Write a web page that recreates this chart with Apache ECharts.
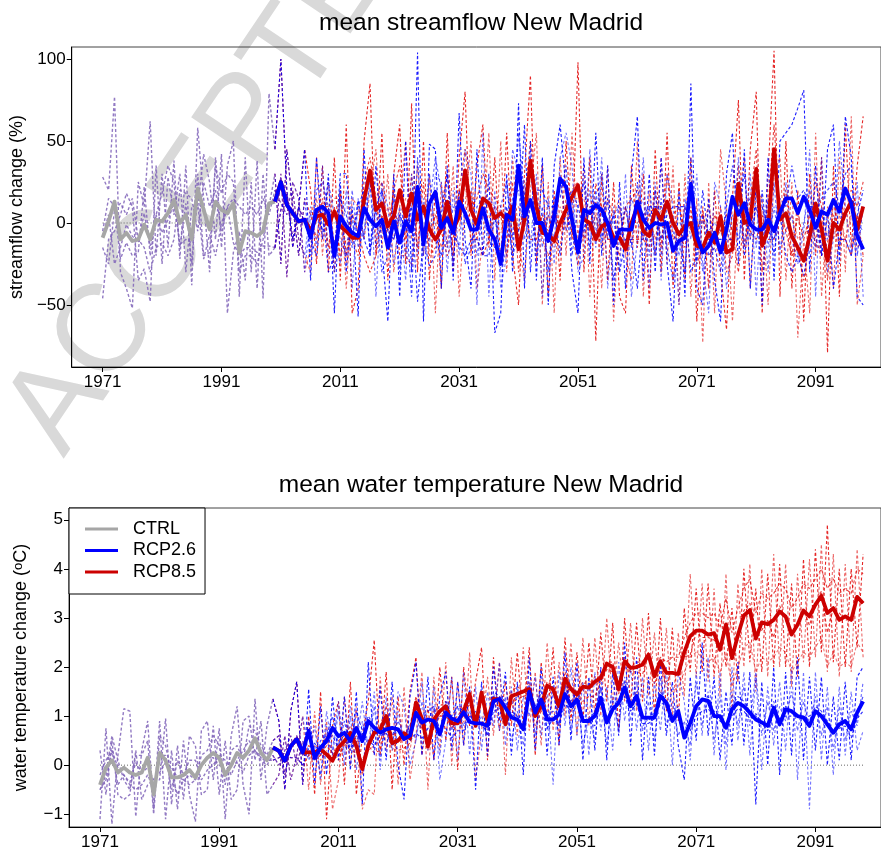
<!DOCTYPE html>
<html>
<head>
<meta charset="utf-8">
<script src="https://cdn.jsdelivr.net/npm/echarts@6/dist/echarts.min.js"></script>
<style>
html, body { margin: 0; padding: 0; background: #fff; }
#chart { width: 881px; height: 851px; }
</style>
</head>
<body>
<div id="chart"></div>
<script>
// ---------- axis ticks ----------
const yearTicks = [1971, 1991, 2011, 2031, 2051, 2071, 2091];
const flowTicks = [-50, 0, 50, 100];
const tempTicks = [-1, 0, 1, 2, 3, 4, 5];

const CTRL_START = 1971;   // control run 1971-2000
const HIST_START = 2000;   // shared historical years 2000-2005
const RCP_START = 2006;    // scenarios 2006-2099

// ---------- streamflow change (%) ----------
const flowCtrlMean = [-9, 1, 13, -10, -6, -11, -10, -1, -10, 2, 1, 6, 14, 0, 5, -10, 21, 8, -4, 13, 8, 6, 12, -18, -5, -6, -8, -5, 12, 13];
const flowCtrlMembers = [
  [28,20,77,-30,-40,-52,25,10,62,-20,30,-15,38,-22,35,-38,58,15,-30,40,-15,35,50,-45,40,-30,38,-46,79,45],
  [-46,-10,-5,5,18,10,-35,-28,-48,35,-25,28,5,30,-30,10,10,42,25,-10,42,-55,-18,-5,-35,25,-40,30,-20,-15],
  [-5,15,10,-22,-12,-20,-18,22,-20,5,18,35,25,-15,12,-25,30,-20,-18,35,18,30,25,-30,-20,-20,-25,-10,10,30],
  [-15,-25,8,12,5,15,-10,-15,-30,-15,-12,-20,-10,20,18,15,-5,25,10,20,-5,10,15,10,5,10,5,15,5,20],
  [-8,5,-25,-15,-1,-8,-12,6,-14,5,-6,2,12,-13,-10,-12,12,-22,-7,-20,0,10,-12,-20,-15,-15,-18,-14,-14,-15]
];
const flowHistMean = [13, 25, 11, 6, 1, 2];
const flowHistMembers = [
  [45,100,20,-15,10,45],
  [-15,30,-33,20,-10,-20],
  [30,-25,45,10,-20,15],
  [20,12,5,25,15,-30],
  [-15,8,18,-10,10,0]
];
const flowRcp26Mean = [
  -9,8,10,6,-20,4,-2,-6,-8,9,
  2,-2,2,-15,1,-12,1,-5,22,-13,
  12,19,-3,3,-6,13,6,-4,-4,9,
  -4,-10,-25,5,2,35,4,14,0,0,
  -11,4,27,22,2,-18,8,6,11,8,
  0,-14,-4,-4,-4,13,2,-3,0,-1,
  0,-17,-11,-9,24,-8,-18,-14,-6,-18,
  -4,16,5,12,-1,-4,-4,2,-5,6,
  15,15,6,16,8,-3,7,5,14,7,
  21,12,-8,-16
];
const flowRcp85Mean = [
  -5,4,5,-1,7,-2,-5,-9,-9,14,
  32,8,12,-2,4,20,4,18,2,10,
  -4,-10,-4,13,-4,4,32,8,-1,15,
  12,3,6,2,10,-16,2,38,10,-6,
  -7,-11,0,8,16,23,2,0,-10,-2,
  0,-9,-9,-16,0,10,-5,-8,8,2,
  13,0,-7,-2,0,-14,-15,-6,-12,4,
  -18,-16,24,0,2,33,-14,-4,45,2,
  6,-8,-15,-23,-8,12,-4,-23,0,-4,
  6,13,-4,10
];
const flowRcp26Members = [
  [-35,40,-10,30,-55,25,-30,10,-57,45,
   -20,35,-15,-60,30,-45,50,-30,104,-60,
   48,45,-40,35,-35,67,-10,-40,45,-20,
   30,-67,-55,30,-30,73,-40,50,-35,40,
   -50,35,60,20,-30,-55,40,-25,55,-20,
   35,-50,25,-40,30,65,-35,30,-30,40,
   -25,-60,20,-45,85,-40,-50,15,-35,-60,
   30,55,-25,45,-40,25,-50,40,-35,50,
   55,60,70,81,-30,35,-20,45,60,-25,
   65,40,-45,-50],
  [10,-15,35,-20,-10,-25,20,-40,15,-10,
   30,-45,25,10,-25,5,-35,30,-20,15,
   -15,30,25,-30,20,-20,45,30,-50,55,
   -45,20,-40,-20,45,30,25,-15,30,-45,
   15,-25,40,55,35,-30,-20,45,-10,40,
   -40,10,-30,30,-45,-10,40,-40,25,-35,
   30,10,-50,15,-10,30,-25,-55,25,10,
   -40,-10,40,-15,30,-45,20,-30,25,-20,
   25,-10,-25,-5,45,-45,40,-30,-10,50,
   10,-20,25,-45],
  [-20,20,25,10,-30,15,5,-15,10,20,
   -15,10,-30,-20,15,-30,10,-45,40,-20,
   30,-10,-20,10,-25,20,-25,-15,10,15,
   -10,-15,10,25,-10,55,15,40,-20,10,
   -30,15,15,35,-20,10,25,-15,20,-10,
   15,-35,-10,10,-15,25,-10,10,-20,15,
   -15,-35,-10,-30,40,-25,5,-20,-15,-30,
   10,35,10,30,-10,10,-15,15,-20,15,
   10,35,15,20,10,10,15,20,25,10,
   30,35,-20,10],
  [5,5,-5,25,5,-10,-20,20,-15,-5,
   25,-15,20,-5,-10,10,-20,15,10,5,
   10,40,20,-15,10,5,30,10,-20,5,
   15,10,-30,-15,15,20,-10,10,15,-15,
   5,-10,30,-5,15,-20,-5,20,-15,30,
   -10,5,10,-15,15,5,15,-20,20,-20,
   10,-5,-20,10,20,5,-30,-5,0,-5,
   -15,5,-10,10,15,-15,20,-15,10,-15,
   -5,5,-20,0,20,-15,10,-10,15,5,
   5,15,0,-5],
  [-10,-20,10,-30,-20,30,30,-10,14,-10,
   -20,10,20,-5,-10,5,-5,10,-48,-10,
   -26,-20,5,30,-5,-14,-20,-10,-10,-20,
   -20,4,-20,10,-20,-6,60,-30,20,20,
   10,10,-20,10,20,10,-5,10,10,5,
   -5,5,-30,-10,-10,-40,5,10,10,-10,
   5,10,10,10,-30,-20,20,-10,-10,-10,
   -10,-10,20,-20,5,10,10,-5,-10,5,
   -20,-30,-20,-32,-10,5,-20,5,-40,-10,
   -10,-20,5,20]
];
const flowRcp85Members = [
  [20,-25,35,-30,40,-35,60,-55,-40,50,
   85,-20,55,-35,30,60,-25,73,-30,50,
   -35,20,-40,55,-30,40,80,-20,35,60,
   -15,40,-25,55,-20,-50,30,90,-25,35,
   -45,20,-35,50,-10,98,-30,40,-72,30,
   -35,25,-45,-55,35,-15,30,-50,45,-30,
   55,-40,25,-35,40,-60,10,-40,20,-30,
   -65,15,75,-35,45,80,-55,30,105,-45,
   50,-40,20,-60,30,-20,40,-79,35,-45,
   60,-15,35,65],
  [-30,40,-20,25,-15,20,-40,15,10,-10,
   20,45,-15,30,-30,10,50,-10,35,-20,
   30,-55,25,-15,35,-45,10,50,-40,-10,
   55,-35,50,-30,40,-10,-35,20,55,-50,
   25,-55,40,-20,55,-10,35,-45,15,-40,
   35,-60,10,-20,-35,50,-45,20,-20,40,
   -25,35,-50,30,-45,15,-73,25,-55,45,
   10,-60,10,40,-40,20,15,-50,30,40,
   -35,25,-70,-10,-55,55,-45,10,-40,40,
   -30,65,-50,-20],
  [5,-10,15,-15,10,-20,-10,-10,-20,25,
   40,15,25,-15,20,35,-10,30,-15,25,
   -20,-15,10,30,-20,20,45,10,15,30,
   20,15,10,-10,25,-30,15,50,15,-10,
   -20,-10,-15,15,20,25,-10,10,-10,10,
   -10,-10,-20,10,15,20,-10,-15,20,-15,
   30,-10,-5,-15,10,-25,-15,-20,-15,10,
   -30,-20,35,-15,15,45,-30,10,60,5,
   20,-20,-15,-35,-10,25,10,-35,15,-15,
   15,20,10,25],
  [-15,15,-10,10,15,15,-25,5,5,15,
   30,10,-5,10,-10,5,15,10,20,-5,
   10,0,-15,5,0,-5,25,-10,-10,5,
   5,-10,-5,5,5,10,-5,35,10,-5,
   5,-15,10,-5,15,15,15,-5,5,-15,
   15,5,15,-20,-10,0,5,5,-10,10,
   10,15,-10,10,-5,0,0,10,-10,-5,
   -5,-15,15,10,-10,25,0,-5,35,10,
   -5,5,-10,-5,-5,5,-15,-5,-10,5,
   -10,5,-15,-10],
  [-10,5,10,10,-30,20,-20,5,-5,-20,
   -30,-20,5,-5,20,-20,-20,-26,5,-5,
   -10,5,-5,-20,-10,20,5,20,-10,-20,
   -10,10,5,-20,5,-5,10,-10,-10,5,
   -5,10,-5,5,-5,-26,5,-5,24,10,
   -10,-10,-10,10,-10,-10,-10,5,10,10,
   -10,5,10,-5,5,-5,6,-10,5,-5,
   5,-5,-30,5,-5,-10,5,-10,-10,5,
   -5,-20,5,-10,5,-10,-20,-12,5,-10,
   -10,-20,5,-20]
];

// ---------- water temperature change (degC) ----------
const tempCtrlMean = [-0.4,-0.05,0.1,-0.15,-0.05,-0.15,-0.2,-0.15,0.15,-0.6,0.25,0.1,-0.25,-0.25,-0.2,-0.1,-0.25,0.0,0.15,0.25,0.15,-0.2,0.0,0.25,0.15,0.3,0.55,0.25,0.1,0.35];
const tempCtrlMembers = [
  [-1.1,0.75,-1.2,0.2,1.15,1.1,-1.05,0.3,0.9,-0.9,0.9,-1.1,0.3,-0.9,0.5,-0.6,-1.15,0.7,0.9,-0.3,0.75,-1.1,0.6,1.2,-0.4,-1.0,1.35,-0.3,0.8,1.35],
  [0.3,-0.6,0.5,-0.6,-0.7,-0.6,0.3,-0.7,-0.4,-0.3,-0.3,0.95,-0.8,0.4,-0.7,0.6,0.4,-0.6,-0.5,0.8,-0.6,0.5,-0.7,-0.5,0.9,1.0,0.1,0.9,-0.6,-0.4],
  [-0.5,-0.2,0.6,0.1,-0.3,-0.5,0.2,0.2,0.5,-1.0,0.6,0.4,-0.2,-0.6,-0.3,-0.4,-0.3,0.2,0.3,0.6,0.4,-0.4,0.3,0.4,0.1,0.8,0.7,0.4,0.2,0.5],
  [-0.2,0.1,0.3,-0.4,-0.2,-0.4,-0.5,-0.4,-0.2,-0.5,0.2,0.2,-0.5,0.1,-0.2,0.1,0.1,-0.3,-0.1,0.0,0.2,0.1,-0.2,0.1,0.3,0.5,0.3,0.1,0.0,0.2],
  [-0.5,-0.3,0.3,-0.05,-0.2,-0.35,0.05,-0.15,-0.05,-0.3,-0.15,0.05,-0.05,-0.25,-0.3,-0.2,-0.3,0.0,0.15,0.15,0.0,-0.1,0.0,0.05,-0.15,0.2,0.3,0.15,0.1,0.1]
];
const tempHistMean = [0.36, 0.29, 0.09, 0.39, 0.53, 0.26];
const tempHistMembers = [
  [1.35,0.9,-0.5,1.1,1.7,-0.4],
  [-0.4,-0.2,0.6,-0.3,0.2,1.0],
  [0.5,0.6,-0.2,0.4,0.6,0.2],
  [0.2,0.0,0.3,0.6,0.0,0.5],
  [0.1,0.15,0.25,0.15,0.15,0.0]
];
const tempRcp26Mean = [
  0.70,0.15,0.36,0.49,0.76,0.59,0.66,0.49,0.76,0.49,
  0.90,0.76,0.66,0.73,0.76,0.73,0.53,0.60,1.07,0.87,
  0.93,0.90,0.63,1.07,0.95,0.90,1.08,0.88,0.85,0.85,
  0.80,1.30,1.35,1.17,0.97,0.93,0.73,1.50,1.07,1.34,
  0.93,0.93,1.03,1.45,1.20,1.34,0.90,0.90,1.00,1.37,
  0.87,1.14,1.27,1.58,1.20,1.41,0.97,0.97,0.97,1.41,
  1.27,0.90,1.10,0.56,0.86,1.20,1.34,1.31,1.00,1.00,
  0.76,1.14,1.27,1.20,1.07,0.93,0.87,0.80,1.17,0.83,
  1.14,1.10,1.00,0.97,0.80,1.10,1.00,0.83,0.66,0.83,
  0.90,0.73,1.07,1.30
];
const tempRcp85Mean = [
  0.26,0.26,0.32,0.22,0.09,0.36,0.49,0.66,0.39,-0.08,
  0.40,0.66,0.72,1.00,0.45,0.50,0.65,0.55,1.28,0.95,
  0.38,0.93,1.10,1.20,0.85,0.85,1.10,1.45,0.80,1.48,
  0.90,1.35,1.34,0.83,1.41,1.45,1.50,1.55,1.00,1.20,
  1.62,1.55,1.20,1.76,1.55,1.44,1.60,1.58,1.70,1.78,
  2.07,2.00,1.55,2.12,1.98,2.00,2.05,2.25,1.81,2.12,
  1.88,1.88,1.86,2.30,2.63,2.74,2.74,2.66,2.69,2.35,
  2.87,2.18,2.65,3.05,3.16,2.58,2.91,2.87,2.96,3.13,
  3.03,2.66,2.86,3.15,3.03,3.27,3.45,3.10,3.20,2.96,
  3.03,2.96,3.43,3.30
];
const tempRcp26Members = [
  [1.55,-0.4,1.2,-0.2,1.4,0.1,1.4,-0.1,1.5,-0.8,
   2.1,0.2,1.6,0.1,1.7,0.0,-0.7,1.4,2.1,0.2,
   1.8,0.1,1.4,1.9,0.3,1.7,0.4,1.6,-0.5,1.7,
   0.2,2.0,0.9,1.9,0.2,1.7,-0.2,2.2,0.3,2.0,
   0.2,1.8,0.4,2.3,0.5,2.1,0.1,1.8,0.3,2.0,
   0.1,1.9,0.6,2.5,0.4,2.2,0.1,1.8,0.2,2.1,
   0.6,1.7,0.4,-0.3,1.8,0.5,2.5,0.6,1.8,0.1,
   1.5,0.4,2.1,0.4,1.9,-0.8,1.7,0.0,2.0,-0.2,
   1.9,0.2,2.2,0.1,1.8,0.3,1.8,0.0,1.4,0.1,
   1.7,0.1,1.8,2.0],
  [0.2,0.8,-0.3,1.1,0.3,1.3,0.2,1.2,0.4,1.3,
   0.3,1.5,-0.1,1.4,0.3,1.5,1.2,0.0,0.5,1.7,
   0.3,1.6,-0.3,0.5,1.8,0.1,1.9,0.2,1.6,0.3,
   1.5,0.8,2.1,0.4,1.6,0.3,1.4,1.0,1.8,0.6,
   1.6,-0.4,1.9,0.8,2.0,0.6,1.7,0.2,1.9,0.7,
   1.6,0.3,2.1,0.9,2.0,0.7,1.8,0.3,1.7,0.7,
   2.0,0.0,1.9,1.3,0.1,1.9,0.6,2.2,0.2,1.9,
   -0.1,2.0,0.5,1.9,0.2,1.8,-0.1,1.6,0.4,1.7,
   0.3,2.0,-0.3,1.9,-0.9,1.9,0.1,1.6,-0.2,1.6,
   0.2,1.5,0.3,0.7],
  [0.9,0.1,0.5,0.6,1.0,0.4,0.9,0.3,1.1,0.7,
   1.0,0.8,0.7,0.9,0.6,0.9,0.6,0.8,1.3,0.9,
   1.1,1.2,0.7,1.3,1.0,1.2,1.1,0.9,1.1,0.8,
   0.7,1.5,1.4,1.3,1.1,1.0,0.8,1.6,1.2,1.5,
   1.0,1.1,0.8,1.6,1.3,1.5,1.0,0.9,1.1,1.6,
   0.9,1.3,1.3,1.7,1.2,1.5,1.0,0.9,1.1,1.5,
   1.3,1.0,1.2,0.6,0.9,1.2,1.3,1.4,1.1,1.0,
   0.8,1.2,1.4,1.3,1.1,1.0,0.9,0.8,1.3,0.9,
   1.2,1.1,1.0,1.0,0.9,1.2,1.1,0.9,0.7,0.9,
   0.9,0.8,1.1,1.4],
  [0.1,0.4,-0.2,0.8,0.2,1.1,0.0,1.0,-0.1,0.9,
   0.3,1.2,0.1,1.0,0.4,1.1,0.5,0.8,0.5,1.3,
   0.4,1.2,0.2,1.3,0.7,1.2,0.8,1.1,0.8,1.0,
   0.6,1.5,0.7,1.4,0.5,1.1,0.4,1.7,0.6,1.6,
   0.7,1.5,0.8,1.7,0.7,1.5,0.4,1.0,0.5,1.6,
   0.4,1.4,0.7,1.8,0.9,1.7,0.7,1.3,0.5,1.8,
   0.8,1.3,0.6,0.9,0.4,1.7,0.8,1.5,0.5,1.4,
   0.4,1.5,0.8,1.6,0.8,1.9,0.6,1.3,0.7,1.2,
   0.9,1.5,0.7,1.3,0.8,1.4,0.6,1.2,0.3,1.2,
   0.5,1.1,0.8,1.7],
  [0.35,0.45,0.2,0.55,0.6,0.35,0.5,0.35,0.5,0.65,
   0.5,0.4,0.6,0.65,0.4,0.55,0.65,0.5,0.65,0.55,
   0.75,0.8,0.75,0.75,0.55,0.7,0.7,1.0,0.85,0.85,
   0.6,1.1,1.15,1.25,1.05,0.95,0.75,1.4,1.05,1.3,
   0.75,0.95,0.85,1.25,1.1,1.3,0.9,0.9,0.8,1.35,
   0.95,1.2,1.25,1.4,1.1,1.25,0.85,0.85,0.95,1.25,
   1.25,0.9,1.0,0.7,0.7,1.0,1.1,1.15,1.0,0.9,
   0.8,1.0,1.15,1.1,0.95,1.05,0.85,0.7,1.05,0.95,
   1.0,1.0,1.0,0.95,1.0,1.1,1.0,0.85,0.7,0.75,
   0.8,0.55,0.95,1.1]
];
const tempRcp85Members = [
  [1.0,-0.6,1.5,-1.1,0.8,1.3,-0.4,1.7,-0.6,0.6,
   1.3,2.55,0.2,1.9,-0.5,1.4,0.0,1.5,2.2,0.2,
   1.2,0.1,2.0,0.5,1.8,-0.1,2.0,0.8,1.7,2.4,
   0.1,2.2,0.7,1.7,0.8,2.3,0.8,2.4,0.2,2.1,
   0.9,2.4,0.4,2.6,0.9,2.3,0.9,2.5,1.0,2.7,
   1.3,2.9,0.7,3.0,1.2,2.9,1.3,3.1,1.0,3.0,
   1.1,2.8,0.9,3.2,1.9,3.6,1.9,3.7,1.8,3.3,
   2.0,3.2,1.7,4.0,2.1,3.6,1.9,3.9,2.0,4.1,
   2.0,3.7,1.8,4.2,2.0,4.4,2.3,4.9,2.1,4.0,
   2.0,4.0,2.4,4.3],
  [-0.5,1.1,-0.4,0.9,-0.9,-0.3,1.4,0.0,1.2,-0.9,
   -0.5,-0.6,1.8,0.3,1.4,-0.4,1.6,-0.3,0.6,1.9,
   -0.5,1.8,0.3,2.1,0.0,1.7,0.4,2.3,-0.3,0.7,
   1.8,0.6,2.1,-0.2,2.2,0.6,2.4,0.7,1.9,0.4,
   2.5,0.7,2.1,1.0,2.5,0.6,2.6,0.8,2.6,1.0,
   3.0,1.2,2.5,1.3,2.9,1.1,3.0,1.4,2.7,1.3,
   2.8,1.0,2.7,1.4,3.9,1.8,3.7,1.7,3.6,1.4,
   3.9,1.1,3.7,2.0,4.1,1.5,4.0,1.8,4.3,2.0,
   4.1,1.6,3.9,2.1,4.2,2.2,4.5,1.9,4.3,1.8,
   4.1,1.9,4.4,2.2],
  [0.4,0.3,0.2,0.6,0.2,0.5,0.6,0.8,0.5,-0.2,
   0.5,0.7,0.8,1.2,0.6,0.7,0.6,0.8,1.4,1.0,
   0.5,1.1,1.2,1.3,0.9,1.0,1.2,1.5,0.9,1.5,
   1.0,1.4,1.3,0.9,1.5,1.6,1.5,1.7,1.1,1.3,
   1.7,1.6,1.3,1.9,1.6,1.5,1.7,1.6,1.8,1.8,
   2.1,2.1,1.6,2.2,2.0,2.1,2.1,2.3,1.9,2.2,
   2.1,2.2,2.2,2.6,2.9,3.1,3.1,3.0,3.1,2.8,
   3.4,2.7,3.2,3.6,3.8,3.1,3.5,3.4,3.5,3.7,
   3.6,3.2,3.4,3.7,3.6,3.8,4.0,3.6,3.8,3.5,
   3.6,3.5,4.0,3.9],
  [0.2,0.4,0.1,0.3,0.1,0.2,0.4,0.5,0.6,0.0,
   0.3,0.4,0.5,0.8,0.3,0.5,0.7,0.3,1.1,0.9,
   0.3,0.9,1.0,1.1,0.8,0.7,0.9,1.4,0.8,1.4,
   0.8,1.3,1.4,0.8,1.3,1.4,1.4,1.5,1.0,1.1,
   1.6,1.5,1.2,1.6,1.5,1.4,1.5,1.7,1.7,1.7,
   2.0,1.9,1.5,2.0,1.9,2.0,2.0,2.2,1.8,2.1,
   1.6,1.5,1.6,1.9,2.2,2.3,2.2,2.1,2.2,1.9,
   2.3,1.6,2.0,2.4,2.5,1.9,2.2,2.1,2.2,2.4,
   2.3,1.9,2.1,2.3,2.2,2.4,2.6,2.0,2.3,2.0,
   2.1,2.0,2.5,2.3],
  [0.2,0.1,0.2,0.4,0.25,0.1,0.45,0.3,0.25,0.1,
   0.4,0.25,0.3,0.8,0.45,0.3,0.35,0.45,1.1,0.75,
   0.4,0.75,1.0,1.0,0.75,0.95,1.0,1.25,0.9,1.4,
   0.8,1.25,1.2,0.95,1.25,1.35,1.4,1.45,0.8,1.1,
   1.4,1.55,1.0,1.7,1.25,1.4,1.3,1.4,1.4,1.7,
   1.95,1.9,1.45,2.1,1.9,1.9,1.85,2.25,1.65,2.0,
   1.7,1.9,1.8,2.2,2.25,2.7,2.6,2.6,2.55,2.35,
   2.75,2.3,2.55,3.15,3.3,2.7,2.75,2.95,2.6,3.25,
   2.95,2.7,2.9,3.15,2.85,3.25,3.55,2.7,3.2,3.1,
   2.95,3.0,3.45,3.3]
];

// ---------- styling ----------
const FONT = "'Liberation Sans', Arial, Helvetica, sans-serif";
const COL_CTRL = '#a6a6a6';
const COL_CTRL_MEMBER = '#7f63b8';
const COL_26 = '#0000ff';
const COL_85 = '#cc0000';
const COL_85_MEMBER = '#e00000';
const OP_26 = [0.9, 0.55, 0.75, 0.6, 0.85];
const OP_85 = [0.85, 0.6, 0.75, 0.55, 0.8];

const pairs = (start, values) => values.map((v, i) => [start + i, v]);
const minusSign = v => String(v).replace('-', '\u2212');
const plainYear = v => String(v);

const series = [];

function addZeroLine(gi) {
  series.push({
    type: 'line', xAxisIndex: gi, yAxisIndex: gi, silent: true, symbol: 'none', z: 1,
    data: [[1971, 0], [2099, 0]],
    lineStyle: { color: '#555', width: 0.9, type: [1, 2] }
  });
}
function addMembers(gi, start, list, color, opacities, width) {
  list.forEach((vals, k) => {
    series.push({
      type: 'line', xAxisIndex: gi, yAxisIndex: gi, silent: true, symbol: 'none', z: 2,
      data: pairs(start, vals),
      lineStyle: { color, width: width || 1.1, type: [3, 2.2], opacity: opacities ? opacities[k] : 0.85 }
    });
  });
}
function addMean(gi, name, start, values, color, z) {
  series.push({
    name, type: 'line', xAxisIndex: gi, yAxisIndex: gi, silent: true, symbol: 'none', z,
    data: pairs(start, values),
    lineStyle: { color, width: 3.8, join: 'round' },
    itemStyle: { color }
  });
}

function panel(gi, ctrlMean, ctrlMembers, histMean, histMembers, m26, mem26, m85, mem85) {
  addZeroLine(gi);
  addMembers(gi, CTRL_START, ctrlMembers, COL_CTRL_MEMBER, null, 1.4);
  addMembers(gi, HIST_START, mem85.map((m, k) => histMembers[k].concat(m)), COL_85_MEMBER, OP_85);
  addMembers(gi, HIST_START, mem26.map((m, k) => histMembers[k].concat(m)), COL_26, OP_26);
  addMean(gi, 'CTRL', CTRL_START, ctrlMean, COL_CTRL, 6);
  addMean(gi, 'RCP8.5', HIST_START, histMean.concat(m85), COL_85, 7);
  addMean(gi, 'RCP2.6', HIST_START, histMean.concat(m26), COL_26, 8);
}

panel(0, flowCtrlMean, flowCtrlMembers, flowHistMean, flowHistMembers,
      flowRcp26Mean, flowRcp26Members, flowRcp85Mean, flowRcp85Members);
panel(1, tempCtrlMean, tempCtrlMembers, tempHistMean, tempHistMembers,
      tempRcp26Mean, tempRcp26Members, tempRcp85Mean, tempRcp85Members);

function xAxis(gi) {
  return {
    type: 'value', gridIndex: gi, min: 1965.8, max: 2102.0,
    axisLine: { show: true, onZero: false, lineStyle: { color: '#000', width: 1 } },
    axisTick: { show: true, customValues: yearTicks, length: 5, lineStyle: { color: '#000' } },
    axisLabel: { customValues: yearTicks, fontSize: 17, color: '#000', fontFamily: FONT, margin: 7, formatter: plainYear },
    splitLine: { show: false }
  };
}
function yAxis(gi, min, max, ticks, name, rich) {
  return {
    type: 'value', gridIndex: gi, min, max,
    name, nameLocation: 'middle', nameRotate: 90, nameGap: 39,
    nameTextStyle: { fontSize: 18, color: '#000', fontFamily: FONT, lineHeight: 18, rich },
    axisLine: { show: true, onZero: false, lineStyle: { color: '#000', width: 1 } },
    axisTick: { show: true, customValues: ticks, length: 5, lineStyle: { color: '#000' } },
    axisLabel: { customValues: ticks, fontSize: 17, color: '#000', fontFamily: FONT, margin: 6, formatter: minusSign },
    splitLine: { show: false }
  };
}

const option = {
  animation: false,
  backgroundColor: '#fff',
  grid: [
    { left: 69, top: 47, width: 814, height: 320, show: true, borderColor: '#444', borderWidth: 1, backgroundColor: 'transparent' },
    { left: 69, top: 508, width: 814, height: 320, show: true, borderColor: '#444', borderWidth: 1, backgroundColor: 'transparent' }
  ],
  xAxis: [xAxis(0), xAxis(1)],
  yAxis: [
    yAxis(0, -87.8, 107.3, flowTicks, 'streamflow change (%)'),
    yAxis(1, -1.26, 5.24, tempTicks, 'water temperature change ({sup|o}C)',
          { sup: { fontSize: 13, fontFamily: FONT, color: '#000', verticalAlign: 'top', lineHeight: 11 } })
  ],
  legend: {
    data: ['CTRL', 'RCP2.6', 'RCP8.5'],
    orient: 'vertical', left: 69, top: 508,
    icon: 'rect',
    itemWidth: 33, itemHeight: 3.2, itemGap: 3.5,
    padding: [12, 9, 13, 16],
    backgroundColor: '#fff', borderColor: '#000', borderWidth: 1, borderRadius: 0,
    selectedMode: false,
    textStyle: { fontSize: 18, color: '#000', fontFamily: FONT, lineHeight: 18, padding: [0, 0, 0, 10] }
  },
  graphic: [
    {
      type: 'text', x: 224, y: 160, rotation: 56 * Math.PI / 180, z: -10, silent: true,
      style: { text: 'ACCEPTED', fontSize: 124, fontFamily: FONT, fill: '#d9d9d9', textAlign: 'center', textVerticalAlign: 'middle' }
    },
    {
      type: 'text', x: 481, y: 23.5, silent: true,
      style: { text: 'mean streamflow New Madrid', fontSize: 24.5, fontFamily: FONT, fill: '#000', textAlign: 'center', textVerticalAlign: 'middle' }
    },
    {
      type: 'text', x: 481, y: 485, silent: true,
      style: { text: 'mean water temperature New Madrid', fontSize: 24.5, fontFamily: FONT, fill: '#000', textAlign: 'center', textVerticalAlign: 'middle' }
    }
  ],
  series
};

const chart = echarts.init(document.getElementById('chart'), null, { renderer: 'canvas' });
chart.setOption(option);
</script>
</body>
</html>
